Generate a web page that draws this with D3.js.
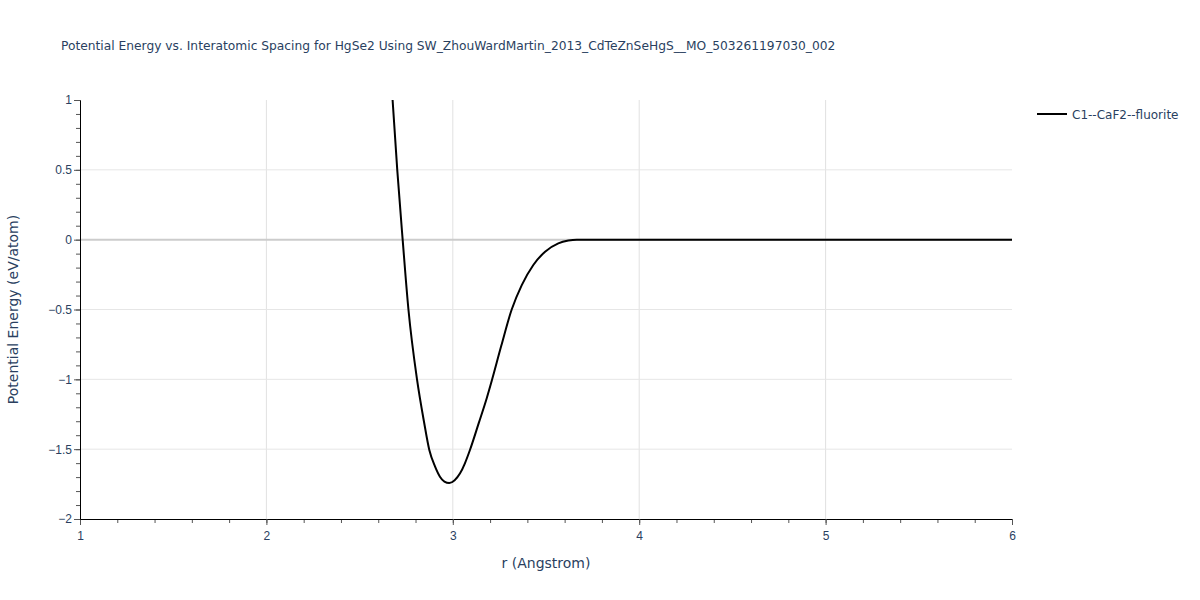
<!DOCTYPE html>
<html><head><meta charset="utf-8">
<script src="https://cdn.jsdelivr.net/npm/d3@7"></script>
<style>body{margin:0;background:#fff;} svg{display:block;font-family:"DejaVu Sans",Verdana,sans-serif;}</style>
</head><body>
<svg id="c" width="1200" height="600"></svg>
<script>
const title = "Potential Energy vs. Interatomic Spacing for HgSe2 Using SW_ZhouWardMartin_2013_CdTeZnSeHgS__MO_503261197030_002";
const seriesName = "C1--CaF2--fluorite";
const rValues = [2.677, 2.702, 2.731, 2.762, 2.808, 2.845, 2.874, 2.905, 2.931, 2.955, 2.981, 3.010, 3.039, 3.065, 3.092, 3.140, 3.182, 3.209, 3.260, 3.316, 3.370, 3.432, 3.495, 3.566, 3.620, 3.665, 3.8, 4.0, 4.5, 5.0, 5.5, 6.0];
const eValues = [1.0, 0.5, 0.0, -0.5, -1.0, -1.3, -1.506, -1.625, -1.697, -1.732, -1.742, -1.722, -1.673, -1.601, -1.506, -1.31, -1.135, -1.01, -0.76, -0.5, -0.325, -0.181, -0.086, -0.026, -0.006, 0, 0, 0, 0, 0, 0, 0];
const xTicks = [1, 2, 3, 4, 5, 6];
const yTicks = [1, 0.5, 0, -0.5, -1, -1.5, -2];

const svg = d3.select("#c");
const L = 80, R = 1012, T = 100, B = 519;
const x = d3.scaleLinear().domain([1, 6]).range([L, R]);
const y = d3.scaleLinear().domain([-2, 1]).range([B, T]);
const fontColor = "#2a3f5f";
const fmt = v => (v < 0 ? "\u2212" : "") + Math.abs(v);

// grid
const grid = svg.append("g");
grid.selectAll("line.gx").data(xTicks.filter(v => v > 1 && v < 6)).join("line")
  .attr("x1", d => x(d)).attr("x2", d => x(d)).attr("y1", T).attr("y2", B)
  .attr("stroke", "#e1e1e1").attr("stroke-width", 1);
grid.selectAll("line.gy").data(yTicks.filter(v => v > -2 && v < 1)).join("line")
  .attr("x1", L).attr("x2", R).attr("y1", d => y(d)).attr("y2", d => y(d))
  .attr("stroke", d => d === 0 ? "#cccccc" : "#e6e6e6").attr("stroke-width", d => d === 0 ? 2 : 1);

// clip
svg.append("clipPath").attr("id", "clip").append("rect").attr("x", L).attr("y", T).attr("width", R - L).attr("height", B - T);

// line
const pts = rValues.map((r, i) => [r, eValues[i]]);
svg.append("path").datum(pts).attr("clip-path", "url(#clip)")
  .attr("fill", "none").attr("stroke", "#000").attr("stroke-width", 2)
  .attr("stroke-linejoin", "round")
  .attr("d", d3.line().x(d => x(d[0])).y(d => y(d[1])).curve(d3.curveMonotoneX));

// axes
const xAxis = svg.append("g").attr("transform", `translate(0,${B})`);
xAxis.call(d3.axisBottom(x).tickValues(d3.range(1, 6.001, 0.2)).tickSize(4).tickFormat(""));
xAxis.selectAll(".tick line").attr("stroke", "#555");
xAxis.select(".domain").remove();
const xMaj = svg.append("g").attr("transform", `translate(0,${B})`)
  .call(d3.axisBottom(x).tickValues(xTicks).tickSize(6).tickPadding(6).tickFormat(fmt));
xMaj.select(".domain").attr("stroke", "#000");
xMaj.selectAll(".tick line").attr("stroke", "#555");
xMaj.selectAll("text").attr("fill", fontColor).style("font-size", "12px");

const yAxis = svg.append("g").attr("transform", `translate(${L},0)`);
yAxis.call(d3.axisLeft(y).tickValues(d3.range(-2, 1.001, 0.1)).tickSize(4).tickFormat(""));
yAxis.selectAll(".tick line").attr("stroke", "#555");
yAxis.select(".domain").remove();
const yMaj = svg.append("g").attr("transform", `translate(${L},0)`)
  .call(d3.axisLeft(y).tickValues(yTicks).tickSize(6).tickPadding(2).tickFormat(fmt));
yMaj.select(".domain").attr("stroke", "#000");
yMaj.selectAll(".tick line").attr("stroke", "#555");
yMaj.selectAll("text").attr("fill", fontColor).style("font-size", "12px");

// titles
svg.append("text").attr("x", 61).attr("y", 50).text(title)
  .attr("fill", fontColor).style("font-size", "12.25px");
svg.append("text").attr("x", (L + R) / 2).attr("y", 568).attr("text-anchor", "middle")
  .text("r (Angstrom)").attr("fill", fontColor).style("font-size", "14px");
svg.append("text").attr("transform", `translate(18,${(T + B) / 2}) rotate(-90)`).attr("text-anchor", "middle")
  .text("Potential Energy (eV/atom)").attr("fill", fontColor).style("font-size", "14px");

// legend
const lg = svg.append("g");
lg.append("line").attr("x1", 1037).attr("x2", 1067).attr("y1", 114).attr("y2", 114).attr("stroke", "#000").attr("stroke-width", 2);
lg.append("text").attr("x", 1072).attr("y", 118.5).text(seriesName).attr("fill", fontColor).style("font-size", "12px");
</script>
</body></html>
